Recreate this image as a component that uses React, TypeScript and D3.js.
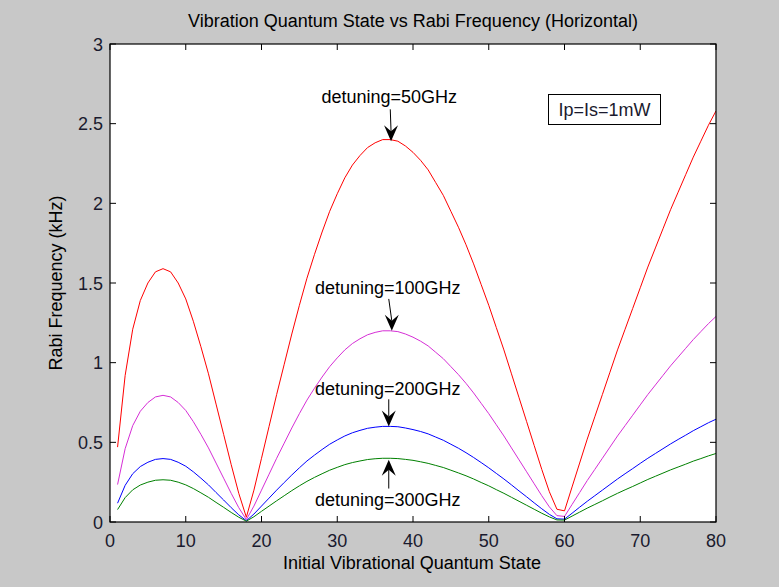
import React from "react";
import * as d3 from "d3";

const states = [1,2,3,4,5,6,7,8,9,10,11,12,13,14,15,16,17,18,19,20,21,22,23,24,25,26,27,28,29,30,31,32,33,34,35,36,37,38,39,40,41,42,43,44,45,46,47,48,49,50,51,52,53,54,55,56,57,58,59,60,61,62,63,64,65,66,67,68,69,70,71,72,73,74,75,76,77,78,79,80];

const det50 = [0.47,0.92,1.21,1.39,1.50,1.57,1.59,1.57,1.50,1.40,1.26,1.10,0.93,0.74,0.55,0.36,0.18,0.03,
0.20,0.40,0.60,0.80,0.99,1.18,1.36,1.53,1.68,1.82,1.95,2.06,2.16,2.24,2.30,2.35,2.38,2.40,2.40,2.39,2.36,2.32,2.27,2.21,2.13,2.05,1.95,1.85,1.74,1.62,1.49,1.36,1.22,1.08,0.93,0.78,0.63,0.48,0.33,0.19,0.08,0.07,
0.22,0.37,0.52,0.66,0.80,0.94,1.08,1.21,1.34,1.47,1.60,1.72,1.84,1.96,2.07,2.18,2.29,2.39,2.49,2.58];

const det100 = [0.235,0.46,0.605,0.695,0.75,0.785,0.795,0.785,0.75,0.70,0.63,0.55,0.465,0.37,0.275,0.18,0.09,0.015,
0.10,0.20,0.30,0.40,0.495,0.59,0.68,0.765,0.84,0.91,0.975,1.03,1.08,1.12,1.15,1.175,1.19,1.20,1.20,1.195,1.18,1.16,1.135,1.105,1.065,1.025,0.975,0.925,0.87,0.81,0.745,0.68,0.61,0.54,0.465,0.39,0.315,0.24,0.165,0.095,0.04,0.035,
0.11,0.185,0.26,0.33,0.40,0.47,0.54,0.605,0.67,0.735,0.80,0.86,0.92,0.98,1.035,1.09,1.145,1.195,1.245,1.29];

const det200 = [0.118,0.23,0.303,0.348,0.375,0.393,0.398,0.393,0.375,0.35,0.315,0.275,0.233,0.185,0.138,0.09,0.045,0.008,
0.05,0.10,0.15,0.20,0.248,0.295,0.34,0.383,0.42,0.455,0.488,0.515,0.54,0.56,0.575,0.588,0.595,0.60,0.60,0.598,0.59,0.58,0.568,0.553,0.533,0.513,0.488,0.463,0.435,0.405,0.373,0.34,0.305,0.27,0.233,0.195,0.158,0.12,0.083,0.048,0.02,0.018,
0.055,0.093,0.13,0.165,0.20,0.235,0.27,0.303,0.335,0.368,0.40,0.43,0.46,0.49,0.518,0.545,0.573,0.598,0.623,0.645];

const det300 = [0.078,0.153,0.202,0.232,0.25,0.262,0.265,0.262,0.25,0.233,0.21,0.183,0.155,0.123,0.092,0.06,0.03,0.005,
0.033,0.067,0.10,0.133,0.165,0.197,0.227,0.255,0.28,0.303,0.325,0.343,0.36,0.373,0.383,0.392,0.397,0.40,0.40,0.398,0.393,0.387,0.378,0.368,0.355,0.342,0.325,0.308,0.29,0.27,0.248,0.227,0.203,0.18,0.155,0.13,0.105,0.08,0.055,0.032,0.013,0.012,
0.037,0.062,0.087,0.11,0.133,0.157,0.18,0.202,0.223,0.245,0.267,0.287,0.307,0.327,0.345,0.363,0.382,0.398,0.415,0.43];

const xTicks = [0,10,20,30,40,50,60,70,80];
const yTicks = [0,0.5,1,1.5,2,2.5,3];
const yTickLabels = ["0","0.5","1","1.5","2","2.5","3"];

const seriesNames = ["detuning=50GHz","detuning=100GHz","detuning=200GHz","detuning=300GHz"];
const seriesValues = [det50, det100, det200, det300];
const seriesColors = ["#ff0000", "#d62ed6", "#0000ff", "#008000"];

// annotation anchors in data units
const annX = [37, 36.8, 36.8, 36.8];
const annTextY = [2.63, 1.43, 0.8, 0.1];
const annStartY = [2.59, 1.4, 0.77, 0.21];
const annTipY = [2.39, 1.2, 0.6, 0.39];
const annTipX = [37.1, 37.2, 36.8, 36.8];

const titleText = "Vibration Quantum State vs Rabi Frequency (Horizontal)";
const xLabel = "Initial Vibrational Quantum State";
const yLabel = "Rabi Frequency (kHz)";
const noteText = "Ip=Is=1mW";

const W = 779, H = 587;
const left = 110, right = 716, top = 44, bottom = 522;
const FONT = "'Liberation Sans', Arial, Helvetica, sans-serif";

export default function App() {
  const x = d3.scaleLinear().domain([0, 80]).range([left, right]);
  const y = d3.scaleLinear().domain([0, 3]).range([bottom, top]);
  const line = d3.line<number>().x((_, i) => x(states[i])).y((v) => y(v));
  const tl = 6;

  const arrowHead = (tx: number, ty: number, dir: number) => {
    const len = 16, half = 7, notch = 10;
    return `M${tx},${ty} L${tx - half},${ty - dir * len} L${tx},${ty - dir * notch} L${tx + half},${ty - dir * len} Z`;
  };

  return (
    <svg width={W} height={H} style={{ position: "absolute", left: 0, top: 0, fontFamily: FONT }}>
      <rect x={0} y={0} width={W} height={H} fill="#c8c8c8" />
      <rect x={left} y={top} width={right - left} height={bottom - top} fill="#ffffff" />
      <defs>
        <clipPath id="plotclip">
          <rect x={left} y={top} width={right - left} height={bottom - top} />
        </clipPath>
      </defs>
      <g clipPath="url(#plotclip)">
        {seriesValues.map((vals, k) => (
          <path key={k} d={line(vals) || ""} fill="none" stroke={seriesColors[k]} strokeWidth={1} />
        ))}
      </g>
      {xTicks.map((t) => (
        <g key={"xt" + t}>
          <line x1={x(t)} x2={x(t)} y1={bottom} y2={bottom - tl} stroke="#000" />
          <line x1={x(t)} x2={x(t)} y1={top} y2={top + tl} stroke="#000" />
          <text x={x(t)} y={547} fontSize={18} textAnchor="middle" fill="#1a1a2e">{t}</text>
        </g>
      ))}
      {yTicks.map((t, i) => (
        <g key={"yt" + t}>
          <line x1={left} x2={left + tl} y1={y(t)} y2={y(t)} stroke="#000" />
          <line x1={right} x2={right - tl} y1={y(t)} y2={y(t)} stroke="#000" />
          <text x={103} y={y(t) + 6.5} fontSize={18} textAnchor="end" fill="#1a1a2e">{yTickLabels[i]}</text>
        </g>
      ))}
      <rect x={left} y={top} width={right - left} height={bottom - top} fill="none" stroke="#000" strokeWidth={1.2} />
      {seriesNames.map((name, k) => {
        const dir = annTipY[k] < annStartY[k] ? 1 : -1;
        const tx = x(annTipX[k]), ty = y(annTipY[k]);
        return (
          <g key={"ann" + k}>
            <text x={x(annX[k]) - 1} y={y(annTextY[k])} fontSize={18} textAnchor="middle" fill="#000">{name}</text>
            <line x1={x(annX[k])} y1={y(annStartY[k])} x2={tx} y2={ty - dir * 10} stroke="#000" strokeWidth={1} />
            <path d={arrowHead(tx, ty, dir)} fill="#000" />
          </g>
        );
      })}
      <rect x={548.5} y={94.5} width={112} height={30} fill="#fff" stroke="#000" strokeWidth={1} />
      <text x={604.5} y={116} fontSize={18} textAnchor="middle" fill="#1a1a2e">{noteText}</text>
      <text x={413} y={27} fontSize={18} textAnchor="middle" fill="#000">{titleText}</text>
      <text x={412} y={569} fontSize={18} textAnchor="middle" fill="#000">{xLabel}</text>
      <text transform={`translate(62,283) rotate(-90)`} fontSize={18} textAnchor="middle" fill="#000">{yLabel}</text>
    </svg>
  );
}
